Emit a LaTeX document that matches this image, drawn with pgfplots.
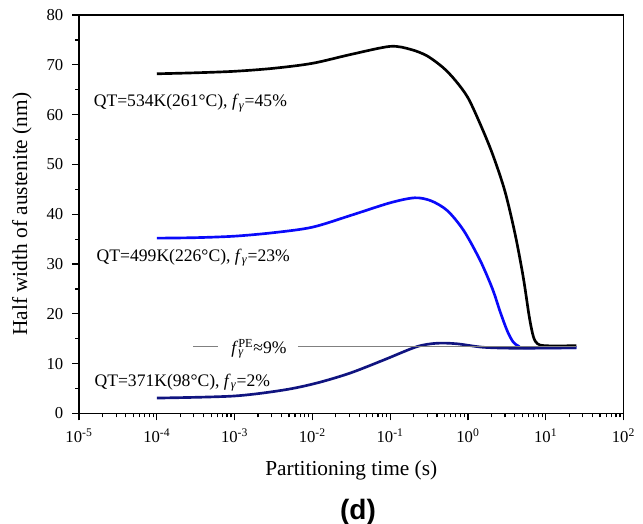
\documentclass[border=0pt]{standalone}
\usepackage{fontspec}
\setmainfont{Liberation Serif}
\newfontfamily\arial{Liberation Sans}
\usepackage{pgfplots}
\pgfplotsset{compat=1.18}

\definecolor{navyc}{RGB}{16,20,128}
\definecolor{bluec}{RGB}{10,10,250}

\begin{document}
\begin{tikzpicture}
\path[use as bounding box] (-59.25pt,-82.875pt) rectangle (423pt,310.125pt);
\begin{axis}[
    at={(0,0)}, anchor=south west,
    scale only axis,
    width=408.375pt, height=298.875pt,
    xmode=log,
    xmin=1e-5, xmax=1e2,
    ymin=0, ymax=80,
    xtick={1e-5,1e-4,1e-3,1e-2,1e-1,1e0,1e1,1e2},
    xticklabels={10\textsuperscript{-5},10\textsuperscript{-4},10\textsuperscript{-3},10\textsuperscript{-2},10\textsuperscript{-1},10\textsuperscript{0},10\textsuperscript{1},10\textsuperscript{2}},
    minor xtick={2e-5,3e-5,4e-5,5e-5,6e-5,7e-5,8e-5,9e-5,
                 2e-4,3e-4,4e-4,5e-4,6e-4,7e-4,8e-4,9e-4,
                 2e-3,3e-3,4e-3,5e-3,6e-3,7e-3,8e-3,9e-3,
                 2e-2,3e-2,4e-2,5e-2,6e-2,7e-2,8e-2,9e-2,
                 0.2,0.3,0.4,0.5,0.6,0.7,0.8,0.9,
                 2,3,4,5,6,7,8,9,
                 20,30,40,50,60,70,80,90},
    ytick={0,10,...,80},
    minor ytick={5,15,...,75},
    tick pos=left,
    tick align=outside,
    major tick length=5.25pt,
    minor tick length=3pt,
    every tick/.style={black, line width=0.9pt},
    axis line style={line width=1pt},
    /pgf/number format/assume math mode=true,
    tick label style={font=\fontsize{12.5}{14}\selectfont},
    xticklabel style={yshift=-3pt},
    yticklabel style={xshift=-3pt},
    xlabel={Partitioning time (s)},
    ylabel={Half width of austenite (nm)},
    label style={font=\fontsize{16}{19}\selectfont},
    xlabel style={at={(axis description cs:0.5,-0.143)}, anchor=center},
    ylabel style={at={(axis description cs:-0.105,0.5)}, anchor=center},
    every axis plot/.append style={line width=2pt},
]
% QT=534K
\addplot[black, smooth, tension=0.5] coordinates {
(1e-4,68.2) (3.16e-4,68.4) (1e-3,68.7) (3.16e-3,69.3) (1e-2,70.3)
(0.0316,72.1) (0.1,73.7) (0.183,73.1) (0.298,71.8) (0.483,69.4) (0.695,66.8)
(1,63.4) (1.44,58.1) (2.07,52.1) (2.98,44.7) (4.03,36.1) (5.14,27.4)
(6.15,19.4) (6.95,15.4) (7.85,14.0) (10,13.6) (24.8,13.6)};
% QT=499K
\addplot[bluec, smooth, tension=0.5] coordinates {
(1e-4,35.2) (3.16e-4,35.3) (1e-3,35.6) (3.16e-3,36.3) (1e-2,37.4) (0.0316,39.8)
(0.1,42.3) (0.207,43.3)
(0.336,42.7) (0.546,40.7) (0.885,36.7) (1.44,30.7) (2.07,25.0) (2.60,20.4)
(3.2,16.6) (3.8,14.4) (4.5,13.5) (5.46,13.2) (24.8,13.2)};
% QT=371K
\addplot[navyc, smooth, tension=0.5] coordinates {
(1e-4,3.1) (9.6e-4,3.5) (4.23e-3,4.7) (0.0113,6.1) (0.0304,8.1) (0.0815,10.7)
(0.219,13.4) (0.396,14.1) (0.716,14.0) (1.57,13.3) (4.23,13.1) (24.8,13.2)};
% f_gamma^PE level
\addplot[gray, line width=0.5pt] coordinates {(2.95e-4,13.5) (6.2e-4,13.5)};
\addplot[gray, line width=0.5pt] coordinates {(6.5e-3,13.5) (24.8,13.5)};

\node[anchor=base west, font=\fontsize{13.2}{15}\selectfont] at (axis cs:1.35e-5,61.6)
  {QT=534K(261°C), \textit{f}\textsubscript{\textit{γ}}=45\%};
\node[anchor=base west, font=\fontsize{13.2}{15}\selectfont] at (axis cs:1.47e-5,30.5)
  {QT=499K(226°C), \textit{f}\textsubscript{\textit{γ}}=23\%};
\node[anchor=base west, font=\fontsize{13.2}{15}\selectfont] at (axis cs:1.38e-5,5.4)
  {QT=371K(98°C), \textit{f}\textsubscript{\textit{γ}}=2\%};
\node[anchor=base west, font=\fontsize{13.2}{15}\selectfont, fill=white, inner sep=1pt] at (axis cs:8.7e-4,12.1)
  {\textit{f}\rlap{\textsubscript{\textit{γ}}}\textsuperscript{PE}≈9\%};
\end{axis}
\node[font=\arial\bfseries\fontsize{21}{24}\selectfont] at (209.25pt,-73.9pt) {(d)};
\end{tikzpicture}
\end{document}
